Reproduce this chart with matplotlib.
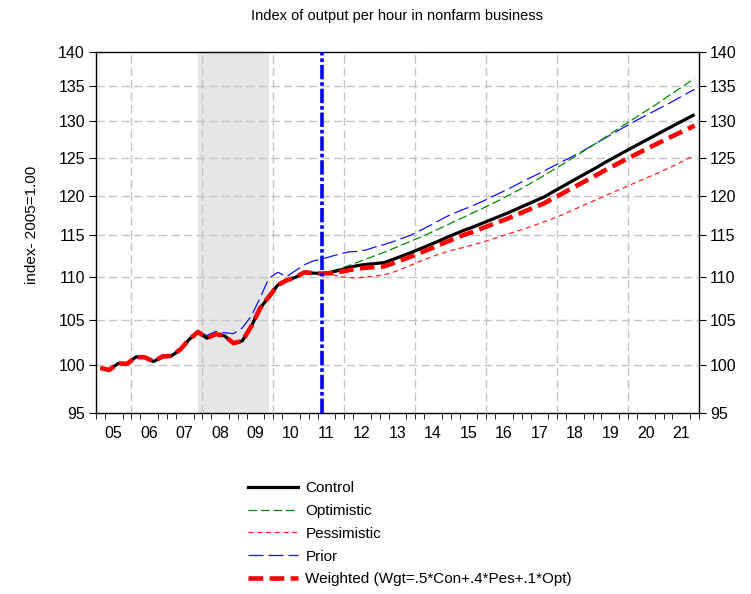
import matplotlib
matplotlib.use("Agg")
import matplotlib.pyplot as plt
import numpy as np
from matplotlib.lines import Line2D

plt.rcParams['font.family'] = ['Liberation Sans', 'DejaVu Sans']

# %% quarterly index values, 2005Q1 .. 2021Q4
# history shared by all scenarios (2005Q1 .. 2011Q2)
hist = [99.7, 99.5, 100.2, 100.15, 100.9, 100.85, 100.4, 100.95, 101.0,
        101.7, 102.8, 103.65, 102.95, 103.4, 103.2, 102.4, 102.65, 104.25,
        106.3, 107.65, 109.0, 109.55, 109.9, 110.5, 110.4, 110.35]

# projections 2011Q3 .. 2021Q4
control = [110.5, 110.75, 111.05, 111.3, 111.45, 111.55, 111.65, 112.05,
           112.45, 112.85, 113.3, 113.75, 114.2, 114.7, 115.15, 115.6, 116.0,
           116.45, 116.9, 117.35, 117.8, 118.3, 118.8, 119.3, 119.8, 120.45,
           121.1, 121.75, 122.4, 123.05, 123.7, 124.4, 125.05, 125.7, 126.35,
           127.0, 127.65, 128.3, 128.95, 129.6, 130.25, 130.9]
optimistic = [110.6, 110.95, 111.3, 111.7, 112.1, 112.5, 112.9, 113.35,
              113.8, 114.25, 114.7, 115.2, 115.7, 116.2, 116.75, 117.25, 117.8,
              118.3, 118.85, 119.4, 120.0, 120.6, 121.25, 121.9, 122.6, 123.3,
              124.0, 124.75, 125.5, 126.25, 127.0, 127.8, 128.6, 129.4, 130.2,
              131.0, 131.8, 132.6, 133.5, 134.35, 135.2, 136.1]
pessimistic = [110.25, 110.0, 109.85, 109.85, 109.95, 110.05, 110.2, 110.5,
               110.9, 111.35, 111.8, 112.2, 112.6, 112.95, 113.25, 113.5,
               113.8, 114.1, 114.45, 114.8, 115.15, 115.5, 115.85, 116.25,
               116.65, 117.05, 117.5, 118.0, 118.5, 119.0, 119.5, 120.0, 120.5,
               121.0, 121.5, 122.0, 122.5, 123.0, 123.55, 124.1, 124.7, 125.3]
weighted = [110.4, 110.55, 110.75, 110.95, 111.05, 111.13, 111.2, 111.59,
            111.98, 112.37, 112.8, 113.24, 113.68, 114.16, 114.6, 115.03,
            115.4, 115.83, 116.25, 116.68, 117.1, 117.58, 118.05, 118.51,
            118.98, 119.59, 120.2, 120.83, 121.45, 122.08, 122.7, 123.36,
            123.97, 124.59, 125.2, 125.8, 126.4, 127.0, 127.6, 128.18, 128.77,
            129.35]

# previous forecast vintage, full span
prior = [99.7, 99.5, 100.2, 100.15, 100.9, 100.85, 100.4, 100.95, 101.0,
         101.7, 102.8, 103.65, 103.25, 103.7, 103.55, 103.45, 104.1, 105.4,
         107.5, 109.8, 110.5, 110.0, 110.7, 111.4, 111.85, 112.1,
         112.4, 112.7, 112.95, 113.0, 113.2, 113.55, 113.85, 114.2, 114.6,
         115.0, 115.55, 116.1, 116.7, 117.3, 117.8, 118.25, 118.7, 119.2,
         119.75, 120.3, 120.85, 121.45, 122.05, 122.6, 123.2, 123.8, 124.4,
         125.0, 125.6, 126.3, 127.0, 127.7, 128.4, 129.1, 129.8, 130.45,
         131.1, 131.75, 132.4, 133.1, 133.8, 134.5]

year_labels = ['05', '06', '07', '08', '09', '10', '11', '12', '13', '14',
               '15', '16', '17', '18', '19', '20', '21']
y_ticks = [95, 100, 105, 110, 115, 120, 125, 130, 135, 140]

first_year = 2005
last_year = 2022
recession = (2007.875, 2009.875)
forecast_start = 25  # index of 2011Q2

# %% quarter positions (mid-quarter)
t = first_year + (np.arange(len(prior)) + 0.5) / 4.0

series = {
    'Control': np.array(hist + control),
    'Optimistic': np.array(hist + optimistic),
    'Pessimistic': np.array(hist + pessimistic),
    'Prior': np.array(prior),
    'Weighted (Wgt=.5*Con+.4*Pes+.1*Opt)': np.array(hist + weighted),
}
styles = {
    'Control': dict(color='black', lw=2.3, ls='-'),
    'Optimistic': dict(color='#008a00', lw=0.9, ls=(0, (7, 3))),
    'Pessimistic': dict(color='#ff2020', lw=0.9, ls=(0, (4, 3))),
    'Prior': dict(color='#1010ff', lw=0.9, ls=(0, (12, 4))),
    'Weighted (Wgt=.5*Con+.4*Pes+.1*Opt)': dict(color='#ff0000', lw=3.3,
                                                ls=(0, (3.2, 1.4))),
}

# %% figure
fig = plt.figure(figsize=(7.51, 5.94), dpi=100)
ax = fig.add_axes([96 / 751, 1 - 413 / 594, 603 / 751, 361 / 594])

ax.axvspan(recession[0], recession[1], color='#e6e6e6', lw=0, zorder=0)

grid_kw = dict(color='#c4c4c4', lw=1.0, ls=(0, (6, 3)), zorder=1)
for yr in range(2006, 2021, 2):
    ax.axvline(yr, **grid_kw)
for v in y_ticks[1:-1]:
    ax.axhline(v, **grid_kw)

draw_order = ['Prior', 'Pessimistic', 'Optimistic', 'Control',
              'Weighted (Wgt=.5*Con+.4*Pes+.1*Opt)']
for z, name in enumerate(draw_order):
    ax.plot(t, series[name], zorder=3 + z, solid_capstyle='butt',
            dash_capstyle='butt', **styles[name])

ax.axvline(t[forecast_start], color='#0000ff', lw=2.6,
           ls=(0, (4, 0.8, 1, 0.8)), zorder=9)

# %% axes
ax.set_yscale('log')
ax.set_ylim(95, 140)
ax.set_xlim(first_year, last_year)
ax.yaxis.set_major_locator(matplotlib.ticker.FixedLocator(y_ticks))
ax.yaxis.set_major_formatter(matplotlib.ticker.FixedFormatter([str(v) for v in y_ticks]))
ax.yaxis.set_minor_locator(matplotlib.ticker.NullLocator())
ax.tick_params(axis='y', which='major', direction='out', length=5,
               labelsize=11.5, left=True, right=True, labelright=True, pad=3)

centers = np.arange(first_year, last_year) + 0.5
ax.set_xticks(centers, year_labels)
ax.set_xticks(np.arange(first_year, last_year + 0.01, 0.25), minor=True)
ax.tick_params(axis='x', which='major', length=0, labelsize=11.5, pad=9)
ax.tick_params(axis='x', which='minor', direction='out', length=4)

for sp in ax.spines.values():
    sp.set_linewidth(1.0)
    sp.set_color('black')

ax.set_ylabel('index- 2005=1.00', fontsize=11, labelpad=12)
ax.yaxis.set_label_coords(-0.095, 0.52)
fig.text(397 / 751, 1 - 16 / 594, 'Index of output per hour in nonfarm business',
         ha='center', va='center', fontsize=10.5)

# %% legend below the plot
handles = [Line2D([], [], **styles[name]) for name in series]
fig.legend(handles, list(series.keys()), loc='upper left',
           bbox_to_anchor=(248 / 751, 1 - 481 / 594), frameon=False,
           fontsize=11, handlelength=3.3, handletextpad=0.45,
           labelspacing=0.58, borderaxespad=0, borderpad=0)

fig.savefig('out.png', dpi=100)
